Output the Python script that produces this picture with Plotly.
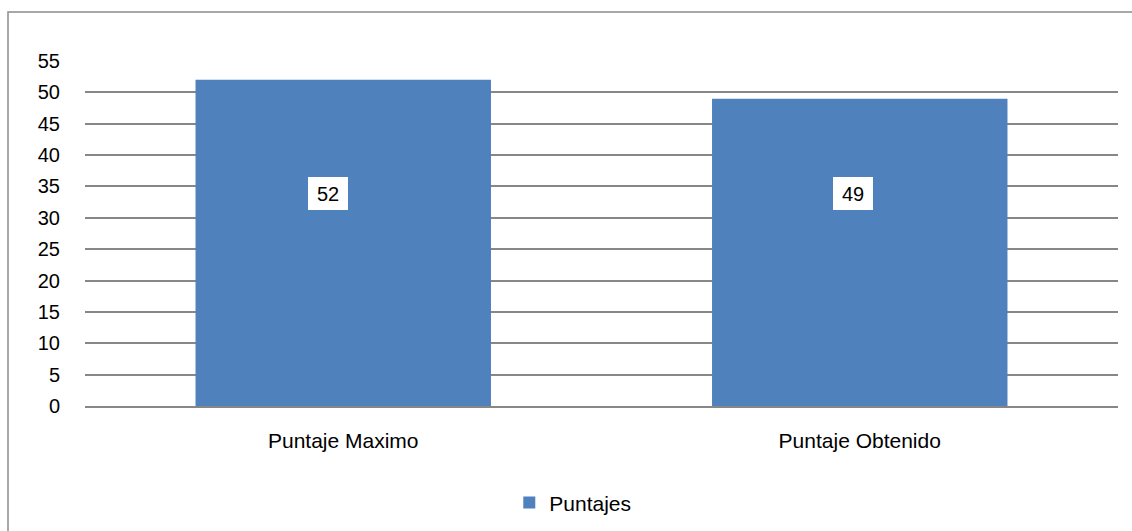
import plotly.graph_objects as go

categories = ["Puntaje Maximo", "Puntaje Obtenido"]
values = [52, 49]
series_name = "Puntajes"
y_ticks = list(range(0, 56, 5))

BAR = "#4F81BD"
GRID = "#878787"
FONT = "Liberation Sans, Arial, sans-serif"

fig = go.Figure()
fig.add_trace(go.Bar(
    x=categories, y=values, name=series_name,
    marker=dict(color=BAR, line=dict(width=0)),
    width=0.572, showlegend=True,
))

label_y = 33.9
xshifts = [-15, -7]
for c, v, xs in zip(categories, values, xshifts):
    fig.add_annotation(
        x=c, y=label_y, text=str(v), showarrow=False,
        xshift=xs, width=28, height=21,
        font=dict(family=FONT, size=20, color="black"),
        bgcolor="white", borderpad=6, bordercolor="white", borderwidth=0,
    )

# outer chart border
fig.add_shape(type="rect", xref="paper", yref="paper",
              x0=(8 - 85) / 1033, x1=1.03, y0=-0.5, y1=1 + (61 - 12) / 345,
              line=dict(color="#8c8c8c", width=1.5), fillcolor="rgba(0,0,0,0)",
              layer="below")

fig.update_layout(
    width=1132, height=531,
    margin=dict(l=85, r=14, t=61, b=125),
    plot_bgcolor="white", paper_bgcolor="white",
    font=dict(family=FONT, size=20, color="black"),
    bargap=0.428,
    legend=dict(orientation="h", xref="container", yref="container",
                x=0.506, xanchor="center", y=0.053, yanchor="middle",
                font=dict(size=21), itemwidth=30),
    xaxis=dict(showgrid=False, showline=True, linecolor=GRID, linewidth=2,
               ticks="", tickfont=dict(size=21), ticklabelstandoff=15),
    yaxis=dict(range=[0, 55], tickvals=y_ticks, showgrid=True, gridcolor=GRID,
               gridwidth=2, zeroline=False, showline=False, ticks="",
               tickfont=dict(size=20), ticklabelstandoff=24),
)

fig.write_html("out.html")
